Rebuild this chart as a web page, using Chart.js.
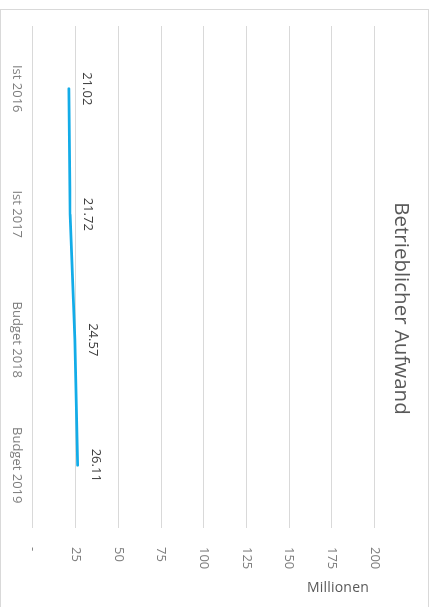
<!DOCTYPE html>
<html lang="de">
<head>
<meta charset="utf-8">
<title>Betrieblicher Aufwand</title>
<script src="https://cdn.jsdelivr.net/npm/chart.js@4/dist/chart.umd.min.js"></script>
<style>
  html, body { margin: 0; padding: 0; background: #fff; }
  body { width: 434px; height: 607px; position: relative; overflow: hidden; font-family: 'Open Sans', sans-serif; }
  .frame { position: absolute; left: 0; top: 9px; width: 429px; height: 620px; border: 1px solid #d9d9d9; box-sizing: border-box; }
  /* the chart is drawn upright and then turned a quarter turn clockwise */
  .turned { position: absolute; left: 0; top: 0; width: 607px; height: 434px;
            transform-origin: 0 0; transform: translate(434px, 0) rotate(90deg); }
  .unit { position: absolute; left: 307px; top: 577px; font-size: 14px; color: #595959; letter-spacing: 0.2px; }
</style>
</head>
<body>
<div class="frame"></div>
<div class="turned"><canvas id="aufwandChart" width="607" height="434"></canvas></div>
<div class="unit">Millionen</div>

<script>
'use strict';

const CATEGORIES = ['Ist 2016', 'Ist 2017', 'Budget 2018', 'Budget 2019'];
const AUFWAND    = [21.02, 21.72, 24.57, 26.11];
const Y_MIN  = 0;
const Y_MAX  = 200;
const Y_STEP = 25;

// value labels above each point (no datalabels plugin available offline)
const valueLabels = {
  id: 'valueLabels',
  afterDatasetsDraw(chart) {
    const { ctx } = chart;
    const meta = chart.getDatasetMeta(0);
    ctx.save();
    ctx.font = '13px "Open Sans", sans-serif';
    ctx.fillStyle = '#404040';
    ctx.textAlign = 'center';
    ctx.textBaseline = 'middle';
    meta.data.forEach((pt, i) => {
      ctx.fillText(AUFWAND[i].toFixed(2), pt.x, pt.y - 18);
    });
    ctx.restore();
  },
};

const ctx = document.getElementById('aufwandChart').getContext('2d');
new Chart(ctx, {
  type: 'line',
  data: {
    labels: CATEGORIES,
    datasets: [{
      label: 'Betrieblicher Aufwand',
      data: AUFWAND,
      borderColor: '#13ace8',
      borderWidth: 2.8,
      borderCapStyle: 'round',
      pointRadius: 0,
      fill: false,
      tension: 0,
    }],
  },
  options: {
    responsive: false,
    animation: false,
    devicePixelRatio: 1,
    layout: { padding: { left: 10, right: 0, top: 0, bottom: 0 } },
    plugins: {
      legend: { display: false },
      tooltip: { enabled: false },
      title: {
        display: true,
        text: 'Betrieblicher Aufwand',
        color: '#595959',
        font: { family: '"Open Sans", sans-serif', size: 20.5, weight: 'normal' },
        padding: { top: 21, bottom: 14 },
      },
    },
    scales: {
      x: {
        type: 'category',
        offset: true,
        grid: { display: false, drawTicks: false },
        border: { display: false },
        ticks: {
          color: '#7f7f7f',
          font: { family: '"Open Sans", sans-serif', size: 13 },
          maxRotation: 0,
          padding: 8,
        },
        afterFit: (s) => { s.height = 33; },
      },
      y: {
        position: 'right',
        min: Y_MIN,
        max: Y_MAX,
        grid: { color: '#d9d9d9', lineWidth: 1, drawTicks: false },
        border: { display: false },
        ticks: {
          stepSize: Y_STEP,
          color: '#7f7f7f',
          font: { family: '"Open Sans", sans-serif', size: 13 },
          padding: 19,
          callback: (v) => (v === 0 ? '-' : v),
        },
        afterFit: (s) => { s.width = 79; },
      },
      // empty left gutter so the title centres like the original
      yGap: {
        position: 'left',
        min: Y_MIN,
        max: Y_MAX,
        grid: { display: false },
        border: { display: false },
        ticks: { display: false },
        afterFit: (s) => { s.width = 16; },
      },
    },
  },
  plugins: [valueLabels],
});
</script>
</body>
</html>
